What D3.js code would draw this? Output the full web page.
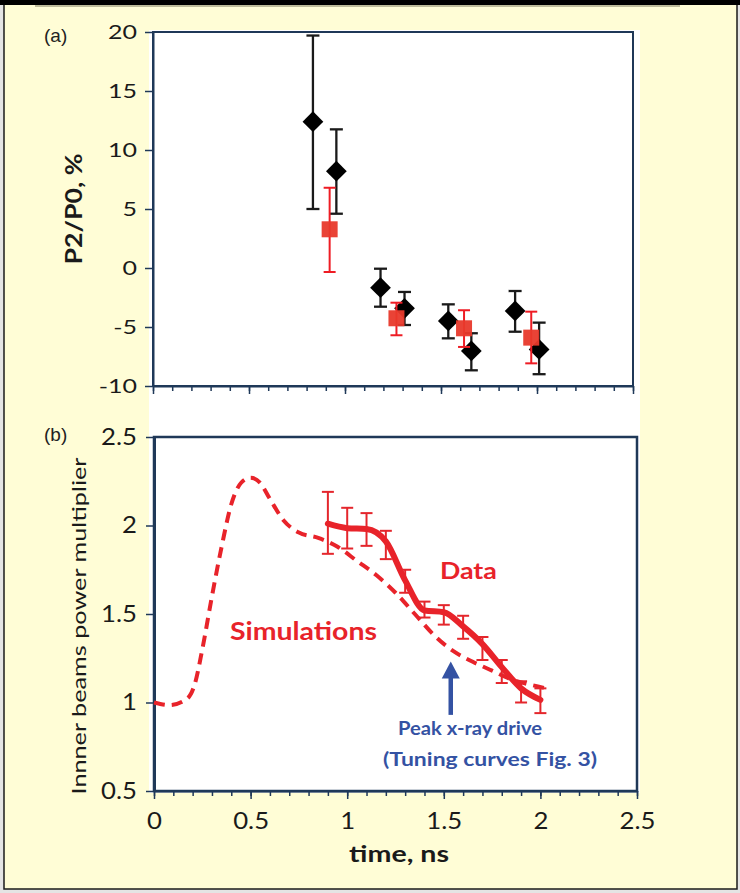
<!DOCTYPE html>
<html>
<head>
<meta charset="utf-8">
<script src="https://cdn.jsdelivr.net/npm/d3@7"></script>
<style>
  body { margin: 0; background: #fff; }
  svg text { font-family: Lato, "Open Sans", sans-serif; }
</style>
</head>
<body>
<main></main>
<script>
// (a) P2/P0 measurements: black diamonds and red squares with error bars
const blackT  = [0.833, 0.955, 1.185, 1.31, 1.538, 1.658, 1.886, 2.011];
const blackV  = [12.4, 8.2, -1.67, -3.42, -4.49, -7.03, -3.64, -6.9];
const blackHi = [19.7, 11.75, -0.06, -2.03, -3.08, -5.53, -1.95, -4.63];
const blackLo = [5.0, 4.6, -3.28, -4.83, -5.96, -8.67, -5.4, -9.0];

const redT  = [0.92, 1.268, 1.62, 1.97];
const redV  = [3.28, -4.26, -5.11, -5.9];
const redHi = [6.8, -2.94, -3.58, -3.7];
const redLo = [-0.34, -5.7, -6.69, -8.08];

// (b) inner beams power multiplier
const simT = [0, 0.08, 0.17, 0.21, 0.25, 0.30, 0.35, 0.40, 0.45, 0.50, 0.55, 0.60, 0.67, 0.75, 0.85, 0.95, 1.05, 1.15, 1.25, 1.35, 1.45, 1.55, 1.65, 1.75, 1.85, 1.95, 2.03];
const simV = [1.0, 0.985, 1.02, 1.10, 1.30, 1.60, 1.88, 2.12, 2.24, 2.27, 2.24, 2.15, 2.03, 1.96, 1.93, 1.88, 1.80, 1.72, 1.62, 1.50, 1.38, 1.29, 1.23, 1.18, 1.13, 1.10, 1.08];

const dataT  = [0.9, 1.0, 1.1, 1.2, 1.3, 1.4, 1.5, 1.6, 1.7, 1.8, 1.9, 2.0];
const dataV  = [2.01, 1.985, 1.98, 1.91, 1.69, 1.52, 1.51, 1.43, 1.33, 1.20, 1.08, 1.015];
const dataHi = [2.19, 2.10, 2.07, 1.97, 1.75, 1.57, 1.55, 1.49, 1.37, 1.24, 1.12, 1.08];
const dataLo = [1.84, 1.87, 1.885, 1.81, 1.62, 1.48, 1.44, 1.36, 1.24, 1.11, 1.00, 0.94];

const yTicksA = [-10, -5, 0, 5, 10, 15, 20];
const yTicksB = [0.5, 1, 1.5, 2, 2.5];
const xTicksMajor = [0, 0.5, 1, 1.5, 2, 2.5];
const xTicksMinor = d3.range(0, 2.51, 0.1);

const width = 740, height = 893;
const navy = "#1f3858";
const red = "#e8232a";
const blue = "#3452a3";
const ink = "#1a1a1a";

const svg = d3.select("main").append("svg")
    .attr("width", width)
    .attr("height", height);

// slide frame
svg.append("rect").attr("x", 0).attr("y", 0).attr("width", width).attr("height", height).attr("fill", "#e4e4e4");
svg.append("rect")
    .attr("x", 4).attr("y", 4).attr("width", 733).attr("height", 885)
    .attr("fill", "#fffdd6")
    .attr("stroke", ink).attr("stroke-width", 1.5);
svg.append("rect").attr("x", 0).attr("y", 0).attr("width", width).attr("height", 5).attr("fill", "#000");
svg.append("line").attr("x1", 35).attr("x2", 680).attr("y1", 6).attr("y2", 6)
    .attr("stroke", "#bdbb9a").attr("stroke-width", 2);

// white pasted plot area
svg.append("rect").attr("x", 149).attr("y", 30).attr("width", 491).attr("height", 763).attr("fill", "#fff");

// scales
const xA = d3.scaleLinear().domain([0, 2.5]).range([153, 633]);
const yA = d3.scaleLinear().domain([-10, 20]).range([386, 32]);
const xB = d3.scaleLinear().domain([0, 2.5]).range([154, 637]);
const yB = d3.scaleLinear().domain([0.5, 2.5]).range([791, 437]);

// the original figure is stretched sideways, so text is widened along its reading direction
function styleAxis(g, size, sx, leftOffset) {
  g.selectAll("path").attr("stroke", navy).attr("stroke-width", 2);
  g.selectAll("line").attr("stroke", navy).attr("stroke-width", 1.5);
  const t = g.selectAll("text").attr("fill", ink).style("font-size", size + "px")
      .attr("transform", `scale(${sx},1)`);
  if (leftOffset != null) t.attr("x", -leftOffset / sx);
}

function label(x, y, txt, size, len, opts = {}) {
  return svg.append("text")
      .attr("transform", `translate(${x},${y})` + (opts.rotate ? " rotate(-90)" : ""))
      .attr("text-anchor", opts.anchor || "start")
      .attr("textLength", len).attr("lengthAdjust", "spacingAndGlyphs")
      .style("font-size", size + "px")
      .style("font-weight", opts.bold ? "bold" : "normal")
      .attr("fill", opts.color || ink)
      .text(txt);
}

function xTicks(x, yPos) {
  // minor ticks every 0.1 ns, longer ones every 0.5 ns
  svg.append("g")
      .attr("transform", `translate(0,${yPos})`)
      .call(d3.axisBottom(x).tickValues(xTicksMinor).tickSize(5).tickFormat(""))
      .call(g => styleAxis(g, 23, 1.12))
      .call(g => g.select("path").remove());
  return svg.append("g")
      .attr("transform", `translate(0,${yPos})`)
      .call(d3.axisBottom(x).tickValues(xTicksMajor).tickSize(8).tickPadding(14)
        .tickSizeOuter(0).tickFormat(d => String(d)))
      .call(g => styleAxis(g, 23, 1.12));
}

// ---------- panel (a) ----------
svg.append("rect")
    .attr("x", xA(0)).attr("y", yA(20))
    .attr("width", xA(2.5) - xA(0)).attr("height", yA(-10) - yA(20))
    .attr("fill", "none").attr("stroke", navy).attr("stroke-width", 2);

svg.append("g")
    .attr("transform", `translate(${xA(0)},0)`)
    .call(d3.axisLeft(yA).tickValues(yTicksA).tickSize(8).tickPadding(8)
      .tickSizeOuter(0).tickFormat(d => String(d)))
    .call(g => styleAxis(g, 20, 1.25, 16));

xTicks(xA, yA(-10)).selectAll("text").remove();

label(82, (yA(20) + yA(-10)) / 2, "P2/P0, %", 22, 111, {rotate: true, anchor: "middle", bold: true});

svg.append("text")
    .attr("x", 44).attr("y", 42)
    .style("font-family", "'Liberation Sans', Arial, sans-serif").style("font-size", "19px")
    .attr("fill", "#222")
    .text("(a)");

const black = blackT.map((t, i) => ({t, v: blackV[i], hi: blackHi[i], lo: blackLo[i]}));
const reds = redT.map((t, i) => ({t, v: redV[i], hi: redHi[i], lo: redLo[i]}));

function errorBars(g, data, x, y, color, cap, sw) {
  const eb = g.selectAll("g").data(data).join("g");
  eb.append("line")
      .attr("x1", d => x(d.t)).attr("x2", d => x(d.t))
      .attr("y1", d => y(d.hi)).attr("y2", d => y(d.lo))
      .attr("stroke", color).attr("stroke-width", sw);
  eb.append("line")
      .attr("x1", d => x(d.t) - cap / 2).attr("x2", d => x(d.t) + cap / 2)
      .attr("y1", d => y(d.hi)).attr("y2", d => y(d.hi))
      .attr("stroke", color).attr("stroke-width", sw);
  eb.append("line")
      .attr("x1", d => x(d.t) - cap / 2).attr("x2", d => x(d.t) + cap / 2)
      .attr("y1", d => y(d.lo)).attr("y2", d => y(d.lo))
      .attr("stroke", color).attr("stroke-width", sw);
}

const gBlack = svg.append("g");
errorBars(gBlack, black, xA, yA, ink, 13, 2.3);
gBlack.selectAll("path.diamond").data(black).join("path")
    .attr("class", "diamond")
    .attr("d", d3.symbol(d3.symbolSquare, 215))
    .attr("transform", d => `translate(${xA(d.t)},${yA(d.v)}) rotate(45)`)
    .attr("fill", "#000");

const gRed = svg.append("g");
errorBars(gRed, reds, xA, yA, "#ee1c24", 12, 2);
gRed.selectAll("rect.sq").data(reds).join("rect")
    .attr("class", "sq")
    .attr("x", d => xA(d.t) - 8).attr("y", d => yA(d.v) - 8)
    .attr("width", 16).attr("height", 16)
    .attr("fill", "#e8392b").attr("fill-opacity", 0.95);

// ---------- panel (b) ----------
svg.append("rect")
    .attr("x", xB(0)).attr("y", yB(2.5))
    .attr("width", xB(2.5) - xB(0)).attr("height", yB(0.5) - yB(2.5))
    .attr("fill", "none").attr("stroke", navy).attr("stroke-width", 2.5);

svg.append("g")
    .attr("transform", `translate(${xB(0)},0)`)
    .call(d3.axisLeft(yB).tickValues(yTicksB).tickSize(8).tickPadding(8)
      .tickSizeOuter(0).tickFormat(d => String(d)))
    .call(g => styleAxis(g, 23, 1.12, 17))
    .call(g => g.select("path").attr("stroke-width", 3));

xTicks(xB, yB(0.5));

label(399, 862, "time, ns", 22, 100, {anchor: "middle", bold: true});
label(86, (yB(2.5) + yB(0.5)) / 2 + 12, "Innner beams power multiplier", 19, 337, {rotate: true, anchor: "middle"});

svg.append("text")
    .attr("x", 44).attr("y", 441)
    .style("font-family", "'Liberation Sans', Arial, sans-serif").style("font-size", "19px")
    .attr("fill", "#222")
    .text("(b)");

const line = (x, y) => d3.line().x(d => x(d[0])).y(d => y(d[1])).curve(d3.curveMonotoneX);

svg.append("path")
    .datum(simT.map((t, i) => [t, simV[i]]))
    .attr("d", line(xB, yB))
    .attr("fill", "none").attr("stroke", red)
    .attr("stroke-width", 4).attr("stroke-dasharray", "11,7");

const meas = dataT.map((t, i) => ({t, v: dataV[i], hi: dataHi[i], lo: dataLo[i]}));
errorBars(svg.append("g"), meas, xB, yB, "#e4262c", 12, 2);

svg.append("path")
    .datum(dataT.map((t, i) => [t, dataV[i]]))
    .attr("d", line(xB, yB))
    .attr("fill", "none").attr("stroke", red)
    .attr("stroke-width", 6).attr("stroke-linecap", "round");

// annotations
label(xB(1.48), yB(1.70), "Data", 23, 57, {bold: true, color: red});
label(xB(0.393), yB(1.354), "Simulations", 24, 147, {bold: true, color: red});

// peak x-ray drive arrow
const arrowX = xB(1.536);
svg.append("line")
    .attr("x1", arrowX).attr("x2", arrowX)
    .attr("y1", yB(1.18)).attr("y2", yB(0.93))
    .attr("stroke", blue).attr("stroke-width", 4.5);
svg.append("path")
    .attr("d", `M${arrowX},${yB(1.232)} L${arrowX - 9},${yB(1.232) + 17} L${arrowX + 9},${yB(1.232) + 17} Z`)
    .attr("fill", blue);

label(398, yB(0.818), "Peak x-ray drive", 19, 144, {bold: true, color: blue});
label(383, yB(0.643), "(Tuning curves Fig. 3)", 19, 214, {bold: true, color: blue});
</script>
</body>
</html>
